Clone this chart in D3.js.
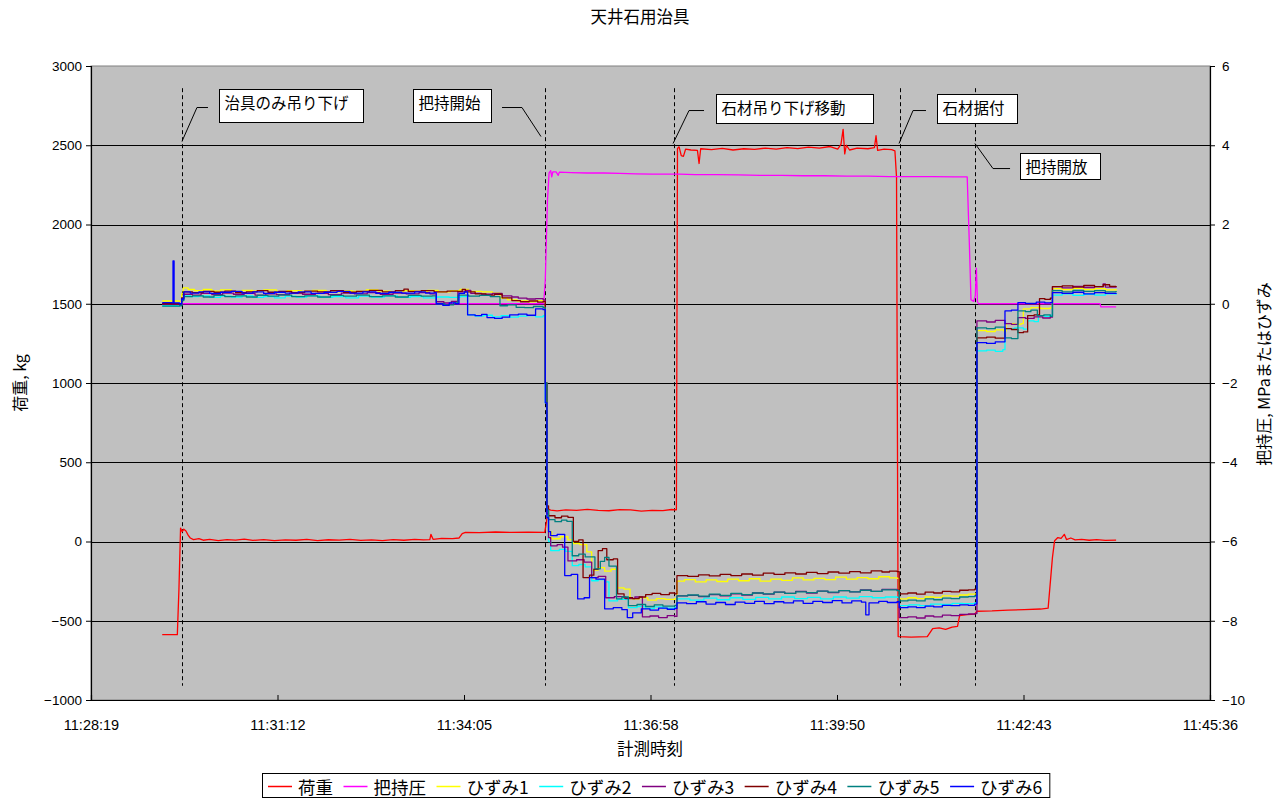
<!DOCTYPE html>
<html><head><meta charset="utf-8">
<script src="https://cdn.jsdelivr.net/npm/d3@7"></script>
<style>body{margin:0;background:#fff}svg{display:block}</style>
</head><body>
<svg id="c" width="1285" height="798"></svg>
<script>
// ---------- DATA ----------
const chartTitle = "天井石用治具";
const xTitle = "計測時刻";
const yLeftTitle = "荷重, kg";
const yRightTitle = "把持圧, MPaまたはひずみ";
// time axis: seconds elapsed since 11:28:19
const xSpan = 1037; // 11:28:19 -> 11:45:36
const xTickLabels = ["11:28:19","11:31:12","11:34:05","11:36:58","11:39:50","11:42:43","11:45:36"];
const yLeftTicks = [-1000,-500,0,500,1000,1500,2000,2500,3000];
const yRightTicks = [-10,-8,-6,-4,-2,0,2,4,6];
const seriesNames = ["荷重","把持圧","ひずみ1","ひずみ2","ひずみ3","ひずみ4","ひずみ5","ひずみ6"];
// event times (s) for dashed markers
const eventTimes = [84.3, 420.7, 540.3, 749.7, 819.2];
const eventLabels = ["治具のみ吊り下げ","把持開始","石材吊り下げ移動","石材据付","把持開放"];

// 荷重 (kg, left axis) [t, value]
const load = [[66,-588],[80,-588],[81.5,-300],[83,85],[84.5,62],[86,78],[88,66],[90,40],[92,22],[95,12],[100,18],[104,8],[110,14],[118,6],[126,12],[134,9],[142,15],[150,7],[160,12],[170,5],[180,10],[190,8],[200,13],[210,6],[220,11],[230,9],[240,14],[250,7],[260,10],[270,6],[280,12],[290,8],[300,13],[308,10],[314,12],[315,45],[317,14],[325,20],[335,18],[341,22],[344,50],[347,58],[360,56],[375,60],[390,57],[405,59],[420.5,58],[422,120],[423.5,205],[426,198],[432,193],[440,200],[450,196],[460,203],[470,197],[480,194],[490,201],[500,199],[510,192],[520,197],[530,195],[538,202],[542.5,200],[543.5,2480],[545,2490],[547,2435],[549,2430],[551,2475],[556,2470],[562,2468],[563.5,2385],[565,2478],[575,2472],[585,2480],[595,2470],[605,2478],[615,2474],[625,2482],[635,2476],[645,2485],[655,2479],[665,2488],[675,2482],[685,2492],[692,2475],[695,2505],[697,2600],[698.5,2445],[700,2500],[703,2470],[710,2482],[720,2478],[726,2485],[727.5,2560],[729,2468],[735,2476],[742,2472],[745,2465],[746.5,2300],[748,-600],[760,-603],[775,-600],[778,-570],[780,-550],[786,-545],[792,-555],[798,-540],[803,-535],[805,-468],[812,-462],[819,-458],[821,-440],[835,-438],[850,-433],[865,-430],[880,-426],[887,-420],[891,-100],[893,5],[896,25],[899,20],[902,45],[904,12],[908,22],[912,10],[918,14],[925,8],[932,12],[940,7],[950,9]];

// 把持圧 (MPa, right axis)
const grip = [[66,0],[419.5,0],[421,0.6],[423,2.6],[424.5,3.3],[426,3.36],[427,3.2],[428,3.33],[431,3.33],[433,3.24],[434,3.32],[445,3.31],[460,3.30],[475,3.30],[490,3.29],[505,3.28],[520,3.27],[535,3.27],[545,3.27],[560,3.26],[580,3.26],[600,3.25],[620,3.24],[640,3.24],[660,3.23],[680,3.23],[700,3.22],[720,3.22],[740,3.21],[760,3.21],[780,3.21],[800,3.20],[812,3.20],[814,1.5],[815.5,0.1],[818,0.06],[819.5,0.2],[820.5,0.9],[821.5,0.05],[822.5,0],[935,0],[936,-0.08],[950,-0.08]];

// ひずみ1..6 (right axis)
const strain1 = [[66,0.07],[82,0.06],[84,0.25],[85.5,0.40],[90,0.36],[96,0.33],[104,0.36],[112,0.32],[120,0.35],[130,0.31],[140,0.34],[150,0.32],[160,0.35],[172,0.30],[182,0.33],[195,0.31],[205,0.34],[218,0.30],[230,0.33],[242,0.31],[255,0.35],[266,0.32],[278,0.30],[290,0.33],[300,0.31],[312,0.34],[322,0.30],[333,0.33],[342,0.36],[350,0.31],[362,0.30],[372,0.27],[379,0.14],[386,0.10],[395,0.07],[405,0.05],[412,0.08],[419,0.05],[421,-2.0],[422.5,-5.25],[424,-5.75],[427,-5.93],[435,-5.88],[442,-5.96],[447,-6.05],[453,-6.08],[459.5,-6.26],[464,-6.72],[470,-6.66],[476,-6.75],[482,-6.70],[488,-7.17],[494,-7.20],[499.5,-7.45],[508,-7.42],[516,-7.48],[524,-7.44],[532,-7.46],[541,-7.44],[543,-7.0],[550,-6.96],[560,-7.02],[570,-6.97],[580,-7.01],[590,-6.95],[600,-6.99],[610,-6.94],[620,-7.00],[630,-6.95],[640,-6.98],[650,-6.92],[660,-6.97],[670,-6.93],[680,-6.96],[690,-6.90],[700,-6.95],[710,-6.91],[720,-6.94],[730,-6.89],[740,-6.92],[747,-6.93],[749,-7.45],[757,-7.42],[765,-7.44],[773,-7.40],[781,-7.41],[789,-7.37],[797,-7.38],[805,-7.35],[813,-7.33],[819,-7.32],[821,-0.68],[830,-0.70],[838,-0.66],[846,-0.69],[848,-0.50],[856,-0.52],[862,-0.50],[864,-0.13],[871,-0.10],[880,-0.12],[889,-0.10],[891,0.38],[900,0.36],[910,0.39],[920,0.36],[930,0.38],[940,0.35],[950,0.37]];
const strain2 = [[66,-0.05],[80,-0.06],[82,-0.04],[84,0.10],[86,0.22],[92,0.18],[100,0.20],[110,0.16],[120,0.19],[130,0.17],[140,0.20],[150,0.16],[160,0.18],[170,0.15],[180,0.19],[190,0.17],[200,0.20],[212,0.16],[224,0.18],[236,0.15],[248,0.19],[260,0.17],[272,0.20],[284,0.16],[296,0.18],[308,0.15],[320,0.17],[332,0.16],[342,0.18],[349,-0.28],[356,-0.31],[364,-0.29],[372,-0.33],[380,-0.30],[388,-0.34],[396,-0.31],[404,-0.30],[412,-0.33],[419,-0.30],[421,-2.5],[422.5,-5.35],[424,-6.0],[426,-6.23],[434,-6.20],[440,-6.25],[446,-6.61],[452,-6.58],[458,-6.64],[464,-6.99],[470,-6.96],[476,-7.02],[480,-7.50],[488,-7.46],[498,-7.67],[506,-7.64],[514,-7.69],[522,-7.65],[530,-7.68],[541,-7.66],[543,-7.45],[555,-7.48],[568,-7.43],[580,-7.47],[592,-7.42],[604,-7.46],[616,-7.41],[628,-7.45],[640,-7.40],[652,-7.44],[664,-7.41],[676,-7.45],[688,-7.40],[700,-7.43],[712,-7.39],[724,-7.42],[736,-7.40],[747,-7.41],[749,-7.62],[758,-7.60],[768,-7.62],[778,-7.58],[788,-7.59],[798,-7.56],[808,-7.57],[819,-7.55],[821,-1.19],[830,-1.17],[838,-1.20],[845,-1.16],[847,-0.63],[856,-0.61],[864,-0.64],[868,-0.43],[874,-0.45],[878,-0.30],[884,-0.32],[889,-0.29],[891,0.22],[900,0.25],[910,0.21],[920,0.24],[930,0.22],[940,0.25],[950,0.23]];
const strain3 = [[66,0.0],[82,-0.02],[84,0.12],[86,0.24],[94,0.22],[102,0.26],[112,0.23],[122,0.27],[132,0.24],[142,0.26],[152,0.22],[162,0.25],[172,0.23],[184,0.27],[196,0.24],[208,0.26],[220,0.23],[232,0.27],[244,0.25],[256,0.28],[268,0.24],[280,0.27],[292,0.25],[304,0.28],[314,0.25],[320,0.05],[327,0.02],[334,0.06],[340,0.30],[347,0.34],[352,0.26],[362,0.24],[372,0.26],[381,0.20],[390,0.17],[396,0.14],[404,0.12],[412,0.13],[419,0.10],[421,-2.0],[422.5,-5.3],[424,-5.9],[426,-6.11],[432,-6.08],[437,-6.14],[442,-6.49],[450,-6.46],[457,-6.52],[464,-6.91],[470,-6.88],[477,-7.42],[485,-7.39],[495,-7.44],[504,-7.40],[511,-7.90],[518,-7.88],[526,-7.92],[534,-7.87],[541,-7.89],[543,-7.37],[553,-7.36],[563,-7.39],[573,-7.34],[583,-7.37],[593,-7.32],[603,-7.35],[613,-7.30],[623,-7.33],[633,-7.28],[643,-7.31],[653,-7.26],[663,-7.30],[673,-7.25],[683,-7.29],[693,-7.24],[703,-7.27],[713,-7.22],[723,-7.26],[733,-7.21],[747,-7.23],[749,-7.92],[757,-7.90],[765,-7.93],[773,-7.88],[781,-7.90],[789,-7.86],[797,-7.87],[805,-7.84],[813,-7.83],[819,-7.82],[821,-0.43],[830,-0.46],[838,-0.42],[847,-0.50],[853,-0.52],[859,-0.35],[866,-0.37],[874,-0.33],[882,-0.36],[889,-0.34],[891,0.43],[900,0.40],[910,0.44],[920,0.41],[930,0.43],[938,0.50],[940,0.42],[950,0.44]];
const strain4 = [[66,0.0],[82,0.0],[84,0.15],[86,0.30],[94,0.28],[104,0.31],[114,0.29],[124,0.32],[134,0.28],[144,0.30],[154,0.33],[164,0.29],[174,0.31],[186,0.28],[198,0.32],[210,0.30],[222,0.33],[234,0.29],[246,0.31],[258,0.34],[270,0.30],[282,0.33],[290,0.37],[294,0.31],[306,0.33],[318,0.30],[330,0.32],[340,0.31],[344,0.36],[347,0.30],[356,0.25],[366,0.22],[374,0.24],[381,0.15],[390,0.08],[398,0.05],[406,0.07],[414,0.04],[419,0.06],[421,-2.0],[422.5,-5.1],[424,-5.35],[430,-5.40],[436,-5.36],[442,-5.39],[447,-6.0],[452,-5.96],[456,-6.91],[462,-6.85],[466,-6.70],[470,-6.23],[474,-6.18],[478,-6.46],[484,-6.44],[488,-7.32],[494,-7.42],[502,-7.44],[508,-7.40],[514,-7.34],[520,-7.31],[528,-7.34],[536,-7.30],[541,-7.32],[543,-6.86],[553,-6.88],[563,-6.84],[573,-6.87],[583,-6.83],[593,-6.86],[603,-6.82],[613,-6.85],[623,-6.80],[633,-6.83],[643,-6.79],[653,-6.82],[663,-6.78],[673,-6.81],[683,-6.77],[693,-6.80],[703,-6.76],[713,-6.79],[723,-6.74],[733,-6.77],[740,-6.75],[747,-6.76],[749,-7.32],[757,-7.30],[765,-7.33],[773,-7.28],[781,-7.30],[789,-7.26],[797,-7.27],[805,-7.23],[813,-7.22],[819,-7.20],[821,-0.86],[830,-0.84],[838,-0.87],[847,-0.63],[853,-0.65],[859,-0.73],[864,-0.71],[868,-0.30],[874,-0.28],[879,0.13],[884,0.11],[889,0.14],[891,0.43],[900,0.45],[910,0.42],[920,0.46],[930,0.43],[938,0.48],[944,0.44],[950,0.45]];
const strain5 = [[66,-0.06],[82,-0.05],[84,0.08],[86,0.18],[94,0.20],[104,0.17],[114,0.21],[124,0.18],[134,0.20],[144,0.17],[154,0.21],[164,0.19],[174,0.22],[186,0.18],[198,0.20],[210,0.17],[222,0.21],[234,0.19],[246,0.22],[258,0.18],[270,0.20],[282,0.17],[294,0.21],[306,0.19],[316,0.20],[320,0.0],[328,-0.03],[336,0.02],[340,0.22],[350,0.19],[360,0.21],[370,0.18],[379,-0.05],[386,-0.03],[394,-0.09],[402,-0.10],[410,-0.07],[419,-0.10],[421,-2.0],[422.5,-5.2],[424,-5.45],[430,-5.50],[436,-5.46],[441,-5.49],[446,-6.36],[452,-6.32],[458,-6.39],[467,-6.69],[472,-6.50],[476,-6.40],[480,-6.62],[487,-7.45],[492,-7.40],[498,-7.62],[506,-7.59],[514,-7.64],[522,-7.60],[530,-7.63],[541,-7.61],[543,-7.37],[553,-7.35],[563,-7.38],[573,-7.33],[583,-7.36],[593,-7.31],[603,-7.34],[613,-7.30],[623,-7.32],[633,-7.28],[643,-7.31],[653,-7.27],[663,-7.29],[673,-7.25],[683,-7.28],[693,-7.24],[703,-7.27],[713,-7.23],[723,-7.26],[733,-7.22],[747,-7.24],[749,-7.50],[757,-7.48],[765,-7.50],[773,-7.45],[781,-7.47],[789,-7.43],[797,-7.44],[805,-7.40],[813,-7.39],[819,-7.37],[821,-0.61],[830,-0.63],[838,-0.59],[847,-0.86],[853,-0.88],[859,-0.18],[866,-0.20],[871,-0.16],[877,-0.30],[883,-0.28],[889,-0.32],[891,0.33],[900,0.30],[910,0.34],[920,0.31],[930,0.33],[940,0.30],[950,0.32]];
const strain6 = [[66,0.03],[75,0.02],[76,1.08],[77,0.02],[82,0.0],[84,0.12],[86,0.30],[92,0.27],[100,0.30],[110,0.26],[120,0.29],[130,0.31],[140,0.27],[150,0.30],[160,0.26],[170,0.29],[180,0.27],[192,0.30],[204,0.26],[216,0.29],[228,0.31],[240,0.27],[252,0.30],[264,0.26],[276,0.29],[288,0.27],[300,0.30],[310,0.27],[318,0.28],[320,0.0],[326,-0.04],[332,0.02],[338,0.0],[341,0.26],[346,0.30],[349,-0.28],[356,-0.30],[362,-0.27],[367,-0.35],[374,-0.37],[381,-0.34],[388,-0.28],[396,-0.26],[404,-0.29],[412,-0.13],[419,-0.15],[421,-2.5],[422.5,-5.4],[424,-5.75],[426,-5.85],[432,-5.82],[439,-6.86],[445,-6.83],[451,-7.45],[457,-7.42],[462,-6.91],[468,-6.95],[476,-7.70],[484,-7.67],[492,-7.72],[497,-7.92],[502,-7.80],[510,-7.70],[518,-7.73],[526,-7.68],[534,-7.71],[541,-7.69],[543,-7.55],[552,-7.57],[561,-7.52],[570,-7.58],[579,-7.54],[588,-7.59],[597,-7.53],[606,-7.56],[615,-7.51],[624,-7.57],[633,-7.52],[642,-7.55],[651,-7.50],[660,-7.56],[669,-7.51],[678,-7.54],[687,-7.49],[696,-7.55],[705,-7.50],[714,-7.53],[718,-7.85],[721,-7.55],[730,-7.51],[738,-7.54],[747,-7.52],[749,-7.67],[757,-7.65],[765,-7.67],[773,-7.63],[781,-7.65],[789,-7.61],[797,-7.62],[805,-7.60],[813,-7.61],[819,-7.58],[821,-0.98],[830,-1.00],[838,-0.96],[847,-0.18],[853,-0.16],[859,0.03],[866,0.01],[876,0.04],[884,0.02],[889,0.03],[891,0.28],[900,0.26],[910,0.29],[920,0.25],[930,0.28],[940,0.26],[950,0.27]];

// ---------- LAYOUT / STYLE ----------
const W = 1285, H = 798;
const plot = {l: 91, r: 1210, t: 66, b: 700};
const colors = ["#FF0000","#FF00FF","#FFFF00","#00FFFF","#800080","#800000","#008080","#0000FF"];
const JP = "'Noto Sans CJK JP','Noto Sans',sans-serif";
const NUM = "'Liberation Sans',Arial,sans-serif";
// annotation geometry in data units (seconds, kg) + box size in px
const annLayout = [
  {box:[118.6,2852], w:144, h:33, leader:[[84.3,2524],[98.2,2738],[108.4,2738]]},
  {box:[298.4,2852], w:78,  h:33, leader:[[380.9,2738],[399.4,2738],[417.0,2555]]},
  {box:[579.2,2826], w:157, h:29, leader:[[568.1,2719],[554.2,2719],[539.4,2511]]},
  {box:[784.0,2826], w:80,  h:29, leader:[[773.8,2719],[761.8,2719],[748.8,2511]]},
  {box:[860.9,2448], w:80,  h:26, leader:[[819.2,2511],[835.9,2353],[851.7,2353]]}
];
const eventSpan = [2860, -910]; // kg extent of dashed markers

// ---------- SCALES ----------
const x = d3.scaleLinear().domain([0, xSpan]).range([plot.l, plot.r]);
const yL = d3.scaleLinear().domain([-1000, 3000]).range([plot.b, plot.t]);
const yR = d3.scaleLinear().domain([-10, 6]).range([plot.b, plot.t]);

const svg = d3.select("#c");
svg.append("rect").attr("width", W).attr("height", H).attr("fill", "#fff");

// plot background
svg.append("rect").attr("x", plot.l).attr("y", plot.t)
  .attr("width", plot.r - plot.l).attr("height", plot.b - plot.t)
  .attr("fill", "#C0C0C0").attr("stroke", "#808080");

// gridlines
svg.append("g").selectAll("line").data(yLeftTicks.filter(d => d > -1000 && d < 3000)).join("line")
  .attr("x1", plot.l).attr("x2", plot.r)
  .attr("y1", d => Math.round(yL(d)) + 0.5).attr("y2", d => Math.round(yL(d)) + 0.5)
  .attr("stroke", "#000").attr("stroke-width", 1);

// clip
svg.append("clipPath").attr("id", "clip").append("rect")
  .attr("x", plot.l).attr("y", plot.t).attr("width", plot.r - plot.l).attr("height", plot.b - plot.t);

// event dashed lines
svg.append("g").selectAll("line").data(eventTimes).join("line")
  .attr("x1", d => Math.round(x(d)) + 0.5).attr("x2", d => Math.round(x(d)) + 0.5)
  .attr("y1", yL(eventSpan[0])).attr("y2", yL(eventSpan[1]))
  .attr("stroke", "#000").attr("stroke-width", 1).attr("stroke-dasharray", "4,3");

// series
const allSeries = [
  {data: load, y: yL}, {data: grip, y: yR},
  {data: strain1, y: yR}, {data: strain2, y: yR}, {data: strain3, y: yR},
  {data: strain4, y: yR}, {data: strain5, y: yR}, {data: strain6, y: yR}
];
const gLines = svg.append("g").attr("clip-path", "url(#clip)");
allSeries.forEach((s, i) => {
  const line = d3.line().x(d => x(d[0])).y(d => s.y(d[1]))
    .curve(i >= 2 ? d3.curveStepAfter : d3.curveLinear);
  gLines.append("path").datum(s.data).attr("d", line)
    .attr("fill", "none").attr("stroke", colors[i]).attr("stroke-width", 1.3)
    .attr("stroke-linejoin", "round");
});

// annotations
const gAnn = svg.append("g");
annLayout.forEach((a, i) => {
  gAnn.append("path")
    .attr("d", d3.line().x(d => x(d[0])).y(d => yL(d[1]))(a.leader))
    .attr("fill", "none").attr("stroke", "#000").attr("stroke-width", 1);
  const bx = Math.round(x(a.box[0])) + 0.5, by = Math.round(yL(a.box[1])) + 0.5;
  gAnn.append("rect").attr("x", bx).attr("y", by).attr("width", a.w).attr("height", a.h)
    .attr("fill", "#fff").attr("stroke", "#000").attr("stroke-width", 1);
  gAnn.append("text").attr("x", bx + 5).attr("y", by + 12.5)
    .attr("dominant-baseline", "central")
    .attr("font-family", JP).attr("font-size", 15.5).attr("fill", "#000")
    .text(eventLabels[i]);
});

// axes
const fmt = d => d < 0 ? "\u2212" + Math.abs(d) : String(d);
const axL = svg.append("g").attr("transform", `translate(${plot.l},0)`)
  .call(d3.axisLeft(yL).tickValues(yLeftTicks).tickSize(5).tickPadding(4).tickFormat(fmt));
const axR = svg.append("g").attr("transform", `translate(${plot.r},0)`)
  .call(d3.axisRight(yR).tickValues(yRightTicks).tickSize(5).tickPadding(7).tickFormat(fmt));
const axB = svg.append("g").attr("transform", `translate(0,${plot.b})`)
  .call(d3.axisBottom(x).tickValues(d3.range(7).map(i => i * xSpan / 6)).tickSize(-5).tickPadding(20)
    .tickFormat((d, i) => xTickLabels[i]));
[axL, axR, axB].forEach(g => {
  g.selectAll("path.domain").attr("stroke", "#000").attr("stroke-width", 1.2);
  g.selectAll(".tick line").attr("stroke", "#000");
  g.selectAll("text").attr("font-family", NUM).attr("font-size", 13.5).attr("fill", "#000");
});
axB.selectAll("text").attr("font-size", 14.5);

// titles
svg.append("text").attr("x", 640).attr("y", 16).attr("text-anchor", "middle")
  .attr("dominant-baseline", "central").attr("font-family", JP).attr("font-size", 16.5).text(chartTitle);
svg.append("text").attr("x", 650).attr("y", 748).attr("text-anchor", "middle")
  .attr("dominant-baseline", "central").attr("font-family", JP).attr("font-size", 16.5).text(xTitle);
svg.append("text").attr("transform", "translate(19,383) rotate(-90)").attr("text-anchor", "middle")
  .attr("dominant-baseline", "central").attr("font-family", JP).attr("font-size", 16).text(yLeftTitle);
svg.append("text").attr("transform", "translate(1263,374) rotate(-90)").attr("text-anchor", "middle")
  .attr("dominant-baseline", "central").attr("font-family", JP).attr("font-size", 16).text(yRightTitle);

// legend
const lg = svg.append("g");
const lgBox = lg.append("rect").attr("y", 773.5).attr("height", 24).attr("fill", "#fff")
  .attr("stroke", "#000").attr("stroke-width", 1);
let lx = 268;
seriesNames.forEach((n, i) => {
  lg.append("line").attr("x1", lx).attr("x2", lx + 24).attr("y1", 786.5).attr("y2", 786.5)
    .attr("stroke", colors[i]).attr("stroke-width", 1.5);
  const t = lg.append("text").attr("x", lx + 30).attr("y", 786).attr("dominant-baseline", "central")
    .attr("font-family", JP).attr("font-size", 17.5).text(n);
  lx = lx + 30 + t.node().getComputedTextLength() + 10.5;
});
lgBox.attr("x", 262.5).attr("width", lx - 3 - 262.5);
</script>
</body></html>
